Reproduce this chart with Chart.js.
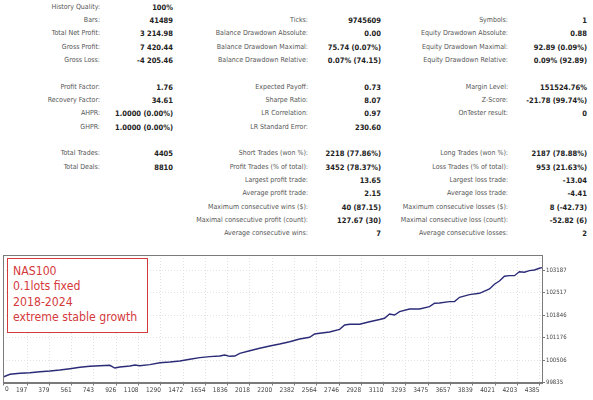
<!DOCTYPE html>
<html>
<head>
<meta charset="utf-8">
<script src="https://cdn.jsdelivr.net/npm/chart.js@4"></script>
<style>
  html, body { margin: 0; padding: 0; background: #fff; }
  body { width: 593px; height: 400px; position: relative; overflow: hidden; font-family: "DejaVu Sans Condensed", "DejaVu Sans", sans-serif; }
  #stats { position: absolute; left: 0; top: 0.7px; border-collapse: collapse; table-layout: fixed; }
  #stats td { height: 13.33px; padding: 0; white-space: nowrap; text-align: right; line-height: 13.33px; }
  #stats td.l { font-size: 7px; color: #555; }
  #stats td.v { font-size: 7.5px; font-weight: bold; color: #222; }
  #wrap { position: absolute; left: 0; top: 250px; width: 593px; height: 150px; }
  #note { position: absolute; left: 7px; top: 258px; width: 141px; height: 75px; border: 1.6px solid #d4393b; background: #fff;
          color: #d4393b; font-size: 12.2px; line-height: 15.3px; padding: 5px 0 0 5px; box-sizing: border-box; }
</style>
</head>
<body>
<table id="stats">
  <colgroup><col style="width:100px"><col style="width:73px"><col style="width:135px"><col style="width:73px"><col style="width:127px"><col style="width:79px"></colgroup>
  <tr><td class="l">History Quality:</td><td class="v">100%</td><td></td><td></td><td></td><td></td></tr>
  <tr><td class="l">Bars:</td><td class="v">41489</td><td class="l">Ticks:</td><td class="v">9745609</td><td class="l">Symbols:</td><td class="v">1</td></tr>
  <tr><td class="l">Total Net Profit:</td><td class="v">3 214.98</td><td class="l">Balance Drawdown Absolute:</td><td class="v">0.00</td><td class="l">Equity Drawdown Absolute:</td><td class="v">0.88</td></tr>
  <tr><td class="l">Gross Profit:</td><td class="v">7 420.44</td><td class="l">Balance Drawdown Maximal:</td><td class="v">75.74 (0.07%)</td><td class="l">Equity Drawdown Maximal:</td><td class="v">92.89 (0.09%)</td></tr>
  <tr><td class="l">Gross Loss:</td><td class="v">-4 205.46</td><td class="l">Balance Drawdown Relative:</td><td class="v">0.07% (74.15)</td><td class="l">Equity Drawdown Relative:</td><td class="v">0.09% (92.89)</td></tr>
  <tr><td></td><td></td><td></td><td></td><td></td><td></td></tr>
  <tr><td class="l">Profit Factor:</td><td class="v">1.76</td><td class="l">Expected Payoff:</td><td class="v">0.73</td><td class="l">Margin Level:</td><td class="v">151524.76%</td></tr>
  <tr><td class="l">Recovery Factor:</td><td class="v">34.61</td><td class="l">Sharpe Ratio:</td><td class="v">8.07</td><td class="l">Z-Score:</td><td class="v">-21.78 (99.74%)</td></tr>
  <tr><td class="l">AHPR:</td><td class="v">1.0000 (0.00%)</td><td class="l">LR Correlation:</td><td class="v">0.97</td><td class="l">OnTester result:</td><td class="v">0</td></tr>
  <tr><td class="l">GHPR:</td><td class="v">1.0000 (0.00%)</td><td class="l">LR Standard Error:</td><td class="v">230.60</td><td></td><td></td></tr>
  <tr><td></td><td></td><td></td><td></td><td></td><td></td></tr>
  <tr><td class="l">Total Trades:</td><td class="v">4405</td><td class="l">Short Trades (won %):</td><td class="v">2218 (77.86%)</td><td class="l">Long Trades (won %):</td><td class="v">2187 (78.88%)</td></tr>
  <tr><td class="l">Total Deals:</td><td class="v">8810</td><td class="l">Profit Trades (% of total):</td><td class="v">3452 (78.37%)</td><td class="l">Loss Trades (% of total):</td><td class="v">953 (21.63%)</td></tr>
  <tr><td></td><td></td><td class="l">Largest profit trade:</td><td class="v">13.65</td><td class="l">Largest loss trade:</td><td class="v">-13.04</td></tr>
  <tr><td></td><td></td><td class="l">Average profit trade:</td><td class="v">2.15</td><td class="l">Average loss trade:</td><td class="v">-4.41</td></tr>
  <tr><td></td><td></td><td class="l">Maximum consecutive wins ($):</td><td class="v">40 (87.15)</td><td class="l">Maximum consecutive losses ($):</td><td class="v">8 (-42.73)</td></tr>
  <tr><td></td><td></td><td class="l">Maximal consecutive profit (count):</td><td class="v">127.67 (30)</td><td class="l">Maximal consecutive loss (count):</td><td class="v">-52.82 (6)</td></tr>
  <tr><td></td><td></td><td class="l">Average consecutive wins:</td><td class="v">7</td><td class="l">Average consecutive losses:</td><td class="v">2</td></tr>
</table>

<div id="wrap"><canvas id="chart-balance"></canvas></div>
<div id="note">NAS100<br>0.1lots fixed<br>2018-2024<br>extreme stable growth</div>

<script>
// balance curve: trade number -> balance
const trades = [0, 57, 139, 220, 302, 384, 465, 547, 629, 710, 792, 873, 914, 955, 1037, 1078, 1118, 1200,
  1282, 1363, 1445, 1527, 1608, 1690, 1771, 1812, 1853, 1894, 1935, 2016, 2098, 2180, 2261, 2343, 2424,
  2506, 2547, 2588, 2669, 2751, 2792, 2833, 2914, 2996, 3078, 3118, 3159, 3200, 3241, 3322, 3404, 3486,
  3527, 3567, 3649, 3690, 3731, 3812, 3894, 3976, 4016, 4057, 4098, 4139, 4180, 4220, 4261, 4302, 4343,
  4384, 4405];
const balance = [100000, 100080, 100110, 100128, 100158, 100178, 100208, 100247, 100289, 100319, 100337,
  100349, 100268, 100298, 100328, 100357, 100337, 100367, 100426, 100447, 100477, 100530, 100576, 100606,
  100626, 100656, 100617, 100626, 100707, 100784, 100856, 100925, 100985, 101053, 101134, 101184, 101283,
  101304, 101343, 101423, 101552, 101573, 101573, 101650, 101715, 101752, 101880, 101851, 101950, 102030,
  102030, 102099, 102200, 102209, 102248, 102250, 102379, 102457, 102498, 102627, 102767, 102866, 103006,
  103024, 103024, 103143, 103125, 103173, 103194, 103245, 103265];

const xTicks = [0, 197, 379, 561, 743, 926, 1108, 1290, 1472, 1654, 1836, 2018, 2200, 2382, 2564, 2746,
  2928, 3110, 3293, 3475, 3657, 3839, 4021, 4203, 4385];
const yTicks = [99835, 100506, 101176, 101846, 102517, 103187];

const points = trades.map((t, i) => ({x: t, y: balance[i]}));

const tickFont = { family: 'DejaVu Sans Condensed', size: 6.5 };

// grey frame round the plot area, plus the first x label which would fall off the left edge
const frame = {
  id: 'frame',
  afterDraw(chart) {
    const {ctx, chartArea: a} = chart;
    ctx.save();
    ctx.strokeStyle = '#7a7a7a';
    ctx.lineWidth = 1;
    ctx.strokeRect(Math.round(a.left) + 0.5, Math.round(a.top) + 0.5, Math.round(a.right - a.left), Math.round(a.bottom - a.top));
    const x = chart.scales.x;
    ctx.fillStyle = '#444';
    ctx.font = tickFont.size + 'px ' + tickFont.family;
    ctx.textAlign = 'left';
    ctx.textBaseline = 'top';
    ctx.fillText(String(xTicks[0]), x.getPixelForValue(xTicks[0]) + 2, a.bottom + 4);
    ctx.restore();
  }
};

const ctx = document.getElementById('chart-balance').getContext('2d');

new Chart(ctx, {
  type: 'line',
  data: {
    datasets: [{
      data: points,
      borderColor: '#2b2b78',
      borderWidth: 1.4,
      pointRadius: 0,
      tension: 0
    }]
  },
  options: {
    responsive: true,
    maintainAspectRatio: false,
    animation: false,
    layout: { padding: { left: 3, top: 5, right: 0, bottom: 0 } },
    plugins: { legend: { display: false }, tooltip: { enabled: false } },
    scales: {
      x: {
        type: 'linear',
        min: 0,
        max: 4405,
        afterBuildTicks: s => { s.ticks = xTicks.map(v => ({value: v})); },
        afterFit: s => { s.height = 17.5; },
        grid: { color: '#e2e2e2', tickColor: '#7a7a7a', tickLength: 3 },
        border: { color: '#7a7a7a', dash: [1, 2] },
        ticks: {
          color: '#444', font: tickFont, padding: 1, align: 'end', maxRotation: 0, autoSkip: false,
          callback: (v, i) => i === 0 ? '' : String(v)
        }
      },
      y: {
        position: 'right',
        min: 99835,
        max: 103641,
        afterBuildTicks: s => { s.ticks = yTicks.map(v => ({value: v})); },
        afterFit: s => { s.width = 51; },
        grid: { color: '#e2e2e2', tickColor: '#7a7a7a', tickLength: 3 },
        border: { color: '#7a7a7a', dash: [1, 2] },
        ticks: { color: '#444', font: { family: 'DejaVu Sans Condensed', size: 6 }, padding: 1, callback: v => String(v) }
      }
    }
  },
  plugins: [frame]
});
</script>
</body>
</html>
